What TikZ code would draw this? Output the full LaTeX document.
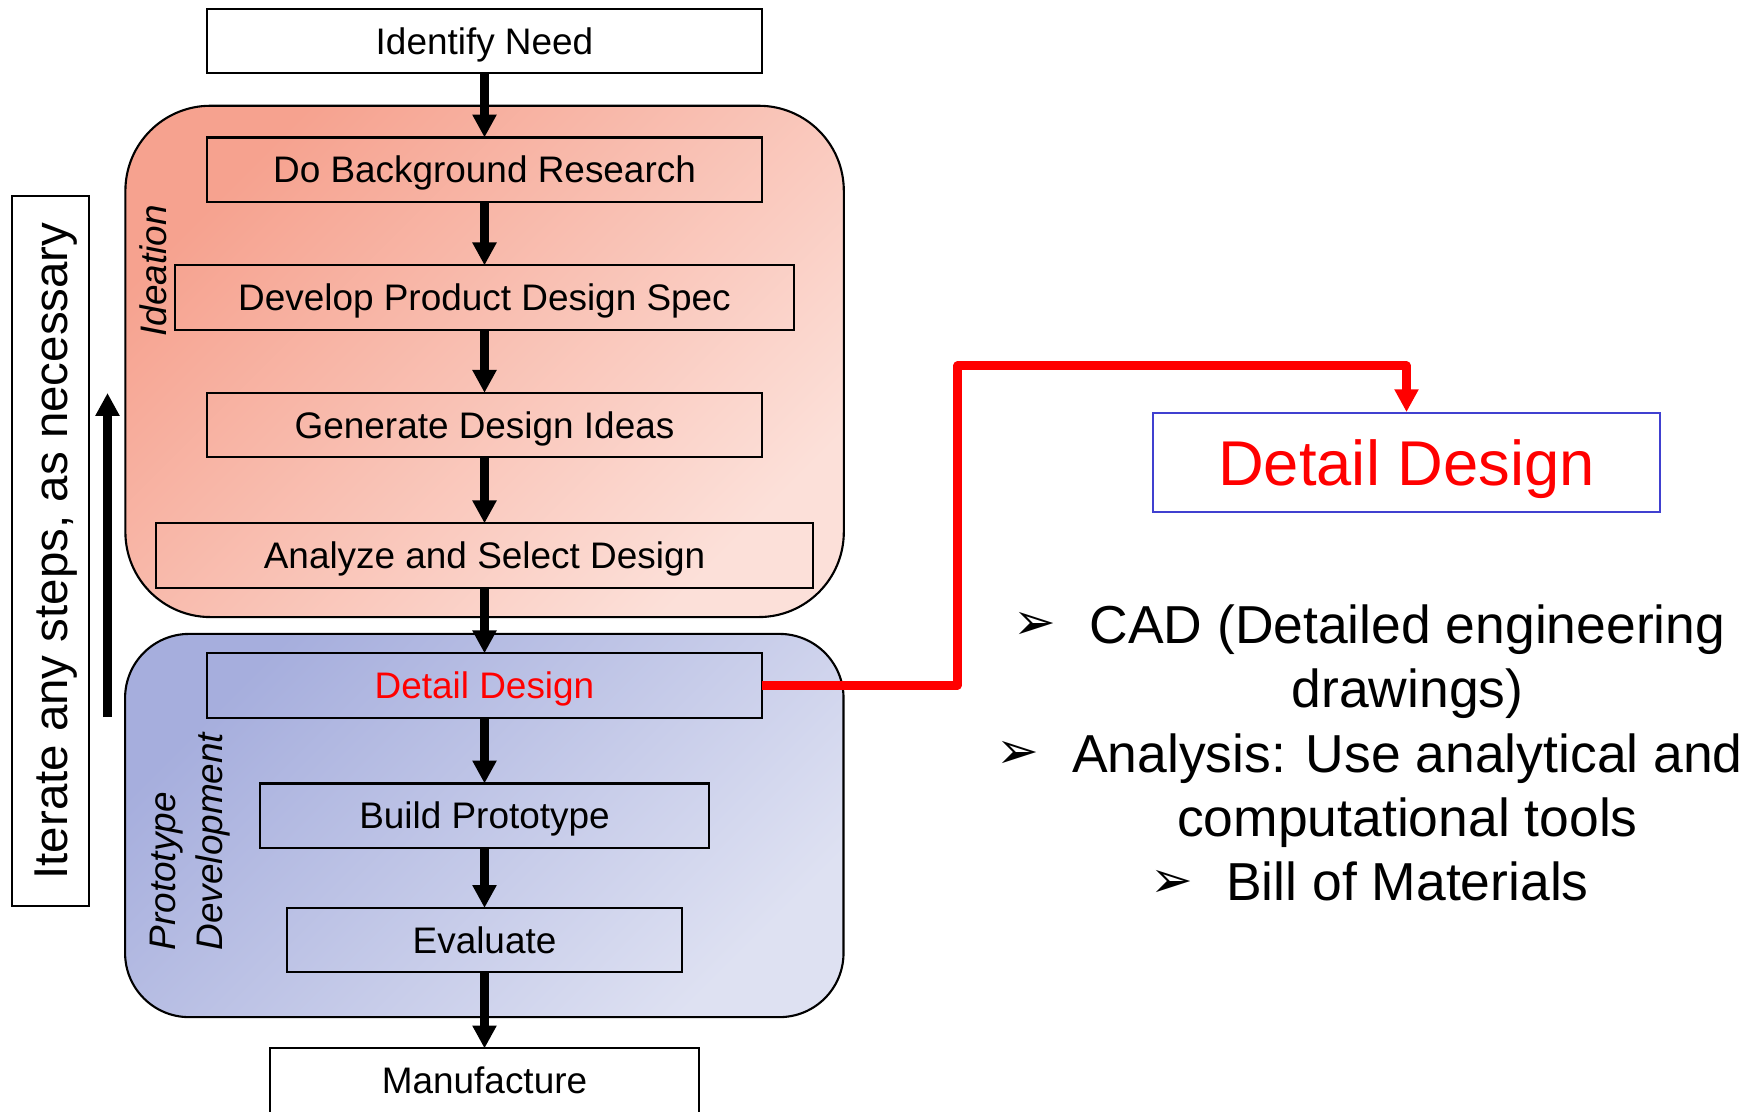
\documentclass[tikz,border=0pt]{standalone}
\usepackage{fontspec}
\setmainfont{Liberation Sans}
\newfontfamily\dingfont{DejaVu Sans}
\usetikzlibrary{arrows.meta, positioning}

\definecolor{ideatop}{RGB}{246,162,143}
\definecolor{ideabot}{RGB}{252,224,217}
\definecolor{prototop}{RGB}{166,174,221}
\definecolor{protobot}{RGB}{222,225,242}
\definecolor{frameblue}{RGB}{64,64,208}

\newcommand{\arrowbullet}{\llap{\raisebox{1pt}{\dingfont\fontsize{14.5}{15}\selectfont ➢}\hspace{0.33cm}}}

\begin{document}
\begin{tikzpicture}[x=0.01cm, y=-0.01cm, >={Triangle[length=6.5pt, width=6.5pt]},
  stepbox/.style={draw, line width=0.6pt, minimum height=0.644cm, inner sep=0pt, outer sep=0pt,
    font=\fontsize{10.5}{12.6}\selectfont, text height=7.5pt, text depth=0pt},
  flow/.style={->, line width=2.3pt},
  phase/.style={draw, line width=0.6pt, inner sep=0pt, minimum width=7.18cm},
  sidelabel/.style={rotate=90, inner sep=0pt, font=\fontsize{10.5}{13.2}\selectfont\itshape}]
  \useasboundingbox (0,0) rectangle (1752,1111);

  % phases
  \node[phase, top color=ideatop, bottom color=ideabot, shading angle=45,
    rounded corners=0.85cm, minimum height=5.11cm] (ideation) at (484.6, 361.4) {};
  \node[phase, top color=prototop, bottom color=protobot, shading angle=45,
    rounded corners=0.64cm, minimum height=3.83cm] (prototyping) at (484.3, 825.5) {};
  \node[sidelabel, text height=7.5pt, text depth=0pt] (idealabel) at (153.5, 271) {Ideation};
  \node[sidelabel, align=left] (protolabel) at (190, 841.5) {Prototype\\Development};

  % steps
  \node[stepbox, fill=white, minimum width=5.55cm] (need) at (484.5, 41.2) {Identify Need};
  \node[stepbox, minimum width=5.55cm, below=0.64cm of need] (research) {Do Background Research};
  \node[stepbox, minimum width=6.18cm, below=0.634cm of research] (spec) {Develop Product Design Spec};
  \node[stepbox, minimum width=5.55cm, below=0.63cm of spec] (ideas) {Generate Design Ideas};
  \node[stepbox, minimum width=6.57cm, below=0.66cm of ideas] (select) {Analyze and Select Design};
  \node[stepbox, minimum width=5.55cm, below=0.655cm of select, text=red] (detail) {Detail Design};
  \node[stepbox, minimum width=4.48cm, below=0.657cm of detail] (build) {Build Prototype};
  \node[stepbox, minimum width=3.95cm, below=0.6cm of build] (evaluate) {Evaluate};
  \node[stepbox, fill=white, minimum width=4.28cm, below=0.76cm of evaluate] (manufacture) {Manufacture};

  \draw[flow] (need) -- (research);
  \draw[flow] (research) -- (spec);
  \draw[flow] (spec) -- (ideas);
  \draw[flow] (ideas) -- (select);
  \draw[flow] (select) -- (detail);
  \draw[flow] (detail) -- (build);
  \draw[flow] (build) -- (evaluate);
  \draw[flow] (evaluate) -- (manufacture);

  % iterate
  \node[draw, line width=0.6pt, rotate=90, minimum width=7.10cm, minimum height=0.776cm,
    inner sep=0pt, font=\fontsize{13.5}{16}\selectfont, text height=9.7pt, text depth=0pt]
    (iterate) at (50.5, 551) {Iterate any steps, as necessary};
  \coordinate (loopfrom) at (107.5, 717);
  \coordinate (loopto) at (107.5, 393);
  \draw[flow] (loopfrom) -- (loopto);

  % detail design callout
  \node[draw=frameblue, line width=0.5pt, minimum width=5.07cm, minimum height=0.99cm,
    inner sep=0pt, text=red, font=\fontsize{18}{20}\selectfont, text height=12.9pt,
    text depth=0pt] (focus) at (1406.5, 462.5) {Detail Design};
  \coordinate (bend) at (957.5, 365.5);
  \draw[flow, red, line join=round] (detail.east) -| (bend) -| (focus.north);

  \node[align=center, inner sep=0pt, font=\fontsize{15.2}{18.3}\selectfont] (tasks) at (1407.5, 753) {%
    \arrowbullet CAD (Detailed engineering\\
    drawings)\\
    \arrowbullet Analysis: Use analytical and\\
    computational tools\\
    \arrowbullet Bill of Materials};
\end{tikzpicture}
\end{document}
